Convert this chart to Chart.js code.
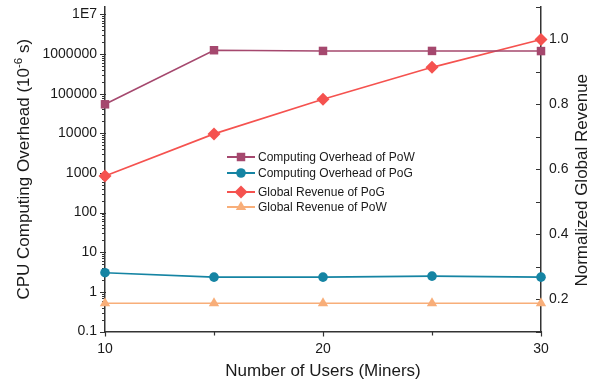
<!DOCTYPE html>
<html>
<head>
<meta charset="utf-8">
<script src="https://cdn.jsdelivr.net/npm/chart.js@4/dist/chart.umd.min.js"></script>
<style>
  html, body { margin: 0; padding: 0; background: #fff; }
  #wrap { width: 595px; height: 385px; position: relative; }
</style>
</head>
<body>
<div id="wrap"><canvas id="c" width="595" height="385"></canvas></div>
<script>
// Number of users (miners) on the x axis
const users = [10, 15, 20, 25, 30];

// CPU computing overhead (10^-6 s), left log axis
const powOverhead = [54000, 1250000, 1200000, 1200000, 1190000];
const pogOverhead = [3.04, 2.35, 2.35, 2.49, 2.35];

// Normalized global revenue, right axis
const pogRevenue = [0.579, 0.709, 0.816, 0.914, 1.0];
const powRevenue = [0.187, 0.187, 0.187, 0.187, 0.187];

// Tick values
const xMajorTicks = [10, 20, 30];
const xMinorTicks = [15, 25];
const leftMajorTicks = [0.1, 1, 10, 100, 1000, 10000, 100000, 1000000, 10000000];
const rightMajorTicks = [0.2, 0.4, 0.6, 0.8, 1.0];
const rightMinorTicks = [0.1, 0.3, 0.5, 0.7, 0.9, 1.1];

const FONT = "'Liberation Sans', Arial, sans-serif";
const AXIS = '#333333';
const TEXT = '#1a1a1a';

const COLORS = {
  powOver: '#A5486E',
  pogOver: '#1584A3',
  pogRev: '#F5524F',
  powRev: '#F8AE79'
};

const pts = arr => users.map((u, i) => ({ x: u, y: arr[i] }));

function leftLabel(v) {
  if (v >= 1e7) return '1E' + Math.round(Math.log10(v));
  if (v < 1) return String(v);
  return String(Math.round(v));
}

// Major and minor tick marks on all three axes
const tickMarks = {
  id: 'tickMarks',
  beforeDatasetsDraw(chart) {
    const ctx = chart.ctx;
    const x = chart.scales.x, yl = chart.scales.yL, yr = chart.scales.yR;
    const ca = chart.chartArea;
    ctx.save();
    ctx.strokeStyle = AXIS;
    ctx.lineWidth = 1.2;
    ctx.beginPath();
    // left log axis
    for (let e = -1; e <= 7; e++) {
      for (let m = 1; m <= 9; m++) {
        const v = m * Math.pow(10, e);
        if (v > yl.max * 1.0001) continue;
        const py = Math.round(yl.getPixelForValue(v)) + 0.5;
        const len = m === 1 ? 5 : 3;
        ctx.moveTo(ca.left - len, py);
        ctx.lineTo(ca.left + (m === 1 ? 1 : 0), py);
        if (e === 7) break;
      }
    }
    // right linear axis
    rightMajorTicks.concat(rightMinorTicks).forEach(v => {
      const py = Math.round(yr.getPixelForValue(v)) + 0.5;
      ctx.moveTo(ca.right - 5, py);
      ctx.lineTo(ca.right, py);
    });
    // x axis
    xMajorTicks.forEach(v => {
      const px = Math.round(x.getPixelForValue(v)) + 0.5;
      ctx.moveTo(px, ca.bottom);
      ctx.lineTo(px, ca.bottom + 5);
    });
    xMinorTicks.forEach(v => {
      const px = Math.round(x.getPixelForValue(v)) + 0.5;
      ctx.moveTo(px, ca.bottom);
      ctx.lineTo(px, ca.bottom + 4);
    });
    ctx.stroke();
    ctx.restore();
  }
};

// Vertical axis titles, both reading bottom-to-top; left one has a superscript
const axisTitles = {
  id: 'axisTitles',
  afterDraw(chart) {
    const ctx = chart.ctx;
    const ca = chart.chartArea;
    const main = '17px ' + FONT, sup = '11.5px ' + FONT;

    function drawRotated(parts, x, cy) {
      ctx.save();
      let total = 0;
      parts.forEach(p => { ctx.font = p.f; p.w = ctx.measureText(p.t).width; total += p.w; });
      ctx.translate(x, cy);
      ctx.rotate(-Math.PI / 2);
      ctx.fillStyle = TEXT;
      ctx.textBaseline = 'alphabetic';
      let cx = -total / 2;
      parts.forEach(p => {
        ctx.font = p.f;
        ctx.fillText(p.t, cx, p.dy);
        cx += p.w;
      });
      ctx.restore();
    }

    drawRotated([
      { t: 'CPU Computing Overhead (10', f: main, dy: 0 },
      { t: '-6', f: sup, dy: -7 },
      { t: ' s)', f: main, dy: 0 }
    ], 29, (ca.top + ca.bottom) / 2);

    drawRotated([
      { t: 'Normalized Global Revenue', f: main, dy: 0 }
    ], 587, (ca.top + ca.bottom) / 2 + 11);
  }
};

// Legend inside the plot area, two groups of two entries
const innerLegend = {
  id: 'innerLegend',
  afterDatasetsDraw(chart, args, opts) {
    const ctx = chart.ctx;
    const ca = chart.chartArea;
    const x0 = ca.left + opts.offsetX;
    ctx.save();
    ctx.font = '12px ' + FONT;
    ctx.textBaseline = 'middle';
    chart.data.datasets.forEach((ds, i) => {
      const y = ca.top + opts.rows[i];
      ctx.strokeStyle = ds.borderColor;
      ctx.lineWidth = 2;
      ctx.beginPath();
      ctx.moveTo(x0, y);
      ctx.lineTo(x0 + 28, y);
      ctx.stroke();
      ctx.fillStyle = ds.pointBackgroundColor;
      ctx.strokeStyle = ds.pointBackgroundColor;
      Chart.helpers.drawPoint(ctx, {
        pointStyle: ds.pointStyle,
        radius: ds.pointRadius,
        rotation: 0,
        borderWidth: 0
      }, x0 + 14, y);
      ctx.fillStyle = TEXT;
      ctx.fillText(ds.label, x0 + 31, y + 0.5);
    });
    ctx.restore();
  }
};

const common = { borderWidth: 1.6, pointBorderWidth: 0, clip: false, tension: 0 };

new Chart(document.getElementById('c'), {
  type: 'line',
  data: {
    datasets: [
      Object.assign({
        label: 'Computing Overhead of PoW', data: pts(powOverhead), yAxisID: 'yL',
        borderColor: COLORS.powOver, pointBackgroundColor: COLORS.powOver,
        pointStyle: 'rect', pointRadius: 6
      }, common),
      Object.assign({
        label: 'Computing Overhead of PoG', data: pts(pogOverhead), yAxisID: 'yL',
        borderColor: COLORS.pogOver, pointBackgroundColor: COLORS.pogOver,
        pointStyle: 'circle', pointRadius: 4.8
      }, common),
      Object.assign({
        label: 'Global Revenue of PoG', data: pts(pogRevenue), yAxisID: 'yR',
        borderColor: COLORS.pogRev, pointBackgroundColor: COLORS.pogRev,
        pointStyle: 'rectRot', pointRadius: 6.5
      }, common),
      Object.assign({
        label: 'Global Revenue of PoW', data: pts(powRevenue), yAxisID: 'yR',
        borderColor: COLORS.powRev, pointBackgroundColor: COLORS.powRev,
        pointStyle: 'triangle', pointRadius: 6
      }, common)
    ]
  },
  options: {
    responsive: false,
    animation: false,
    devicePixelRatio: 1,
    layout: { padding: { top: 7, left: 0, right: 0, bottom: 0 } },
    plugins: {
      legend: { display: false },
      tooltip: { enabled: false },
      innerLegend: { offsetX: 122, rows: [150, 166, 185, 200] }
    },
    scales: {
      x: {
        type: 'linear', min: 10, max: 30,
        grid: { display: false, drawTicks: false },
        border: { display: true, color: AXIS, width: 1.5 },
        afterBuildTicks: s => { s.ticks = xMajorTicks.map(v => ({ value: v })); },
        afterFit: s => { s.height = 53.5; s.paddingLeft = 0; s.paddingRight = 0; },
        ticks: { padding: 9, color: TEXT, font: { family: FONT, size: 14 }, maxRotation: 0 },
        title: {
          display: true, text: 'Number of Users (Miners)', color: TEXT,
          font: { family: FONT, size: 17 }, padding: { top: 0, bottom: 3 }
        }
      },
      yL: {
        type: 'logarithmic', position: 'left', min: 0.1, max: 1.54e7,
        grid: { display: false, drawTicks: false },
        border: { display: true, color: AXIS, width: 1.5 },
        afterBuildTicks: s => { s.ticks = leftMajorTicks.map(v => ({ value: v, major: true })); },
        afterFit: s => { s.width = 105; s.paddingTop = 0; s.paddingBottom = 0; },
        ticks: {
          padding: 8, color: TEXT, font: { family: FONT, size: 14 },
          callback: v => leftLabel(v)
        }
      },
      yR: {
        type: 'linear', position: 'right', min: 0.1, max: 1.1,
        grid: { display: false, drawTicks: false },
        border: { display: true, color: AXIS, width: 1.5 },
        afterBuildTicks: s => { s.ticks = rightMajorTicks.map(v => ({ value: v })); },
        afterFit: s => { s.width = 54; s.paddingTop = 0; s.paddingBottom = 0; },
        ticks: {
          padding: 8, color: TEXT, font: { family: FONT, size: 14 },
          callback: v => Number(v).toFixed(1)
        }
      }
    }
  },
  plugins: [tickMarks, axisTitles, innerLegend]
});
</script>
</body>
</html>
